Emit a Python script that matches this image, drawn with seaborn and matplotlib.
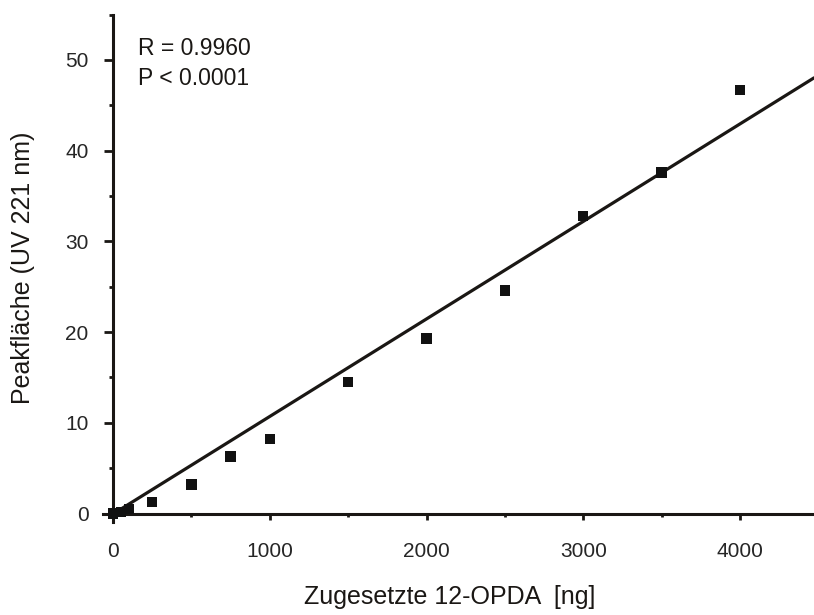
import numpy as np
import pandas as pd
import matplotlib
matplotlib.use("Agg")
import matplotlib.pyplot as plt
import seaborn as sns
from matplotlib.ticker import MultipleLocator

# ---- data ----
opda_ng = [0, 50, 100, 250, 500, 750, 1000, 1500, 2000, 2500, 3000, 3500, 4000]
peak_area = [0.0, 0.2, 0.5, 1.3, 3.2, 6.3, 8.2, 14.5, 19.3, 24.6, 32.8, 37.6, 46.7]
fit_slope = 0.01075
fit_intercept = -0.05
fit_x = [0, 4472]
annot_lines = ["R = 0.9960", "P < 0.0001"]
xlabel = "Zugesetzte 12-OPDA  [ng]"
ylabel = "Peakfläche (UV 221 nm)"

df = pd.DataFrame({"x": opda_ng, "y": peak_area})
fit_df = pd.DataFrame({"x": fit_x,
                       "y": [fit_slope * v + fit_intercept for v in fit_x]})

sns.set_theme(style="ticks")
plt.rcParams["font.family"] = ["Liberation Sans", "DejaVu Sans"]

ink = "#1a1714"
fig = plt.figure(figsize=(8.14, 6.15), dpi=100)
ax = fig.add_axes([0.1265, 0.1517, 0.8735, 0.8246])

sns.lineplot(data=fit_df, x="x", y="y", ax=ax, color=ink, linewidth=2.3,
             zorder=2)
sns.scatterplot(data=df, x="x", y="y", ax=ax, marker="s", s=55,
                color="#111111", edgecolor="none", zorder=3)

ax.set_xlim(-64, 4472)
ax.set_ylim(-0.9, 55)

for side in ("top", "right"):
    ax.spines[side].set_visible(False)
ax.spines["left"].set_position(("data", 0))
ax.spines["bottom"].set_position(("data", 0))
for side in ("left", "bottom"):
    ax.spines[side].set_linewidth(2.2)
    ax.spines[side].set_color(ink)

ax.xaxis.set_major_locator(MultipleLocator(1000))
ax.xaxis.set_minor_locator(MultipleLocator(500))
ax.yaxis.set_major_locator(MultipleLocator(10))
ax.yaxis.set_minor_locator(MultipleLocator(5))

ax.tick_params(axis="x", which="major", direction="out", length=4.5,
               width=2.0, color=ink, labelsize=15, pad=16)
ax.tick_params(axis="x", which="minor", direction="out", length=2.5,
               width=2.0, color=ink)
ax.tick_params(axis="y", which="major", direction="out", length=6.5,
               width=2.0, color=ink, labelsize=15, pad=11)
ax.tick_params(axis="y", which="minor", direction="out", length=3,
               width=2.0, color=ink)

ax.set_xlabel(xlabel, fontsize=18, color=ink)
ax.set_ylabel(ylabel, fontsize=18, color=ink)
ax.xaxis.set_label_coords(0.488, -0.125)
ax.yaxis.set_label_coords(-0.096, 0.5)

ax.text(160, 50.55, annot_lines[0], fontsize=16.5, color=ink, va="baseline")
ax.text(160, 47.2, annot_lines[1], fontsize=16.5, color=ink, va="baseline")

fig.savefig("out.png", dpi=100)
